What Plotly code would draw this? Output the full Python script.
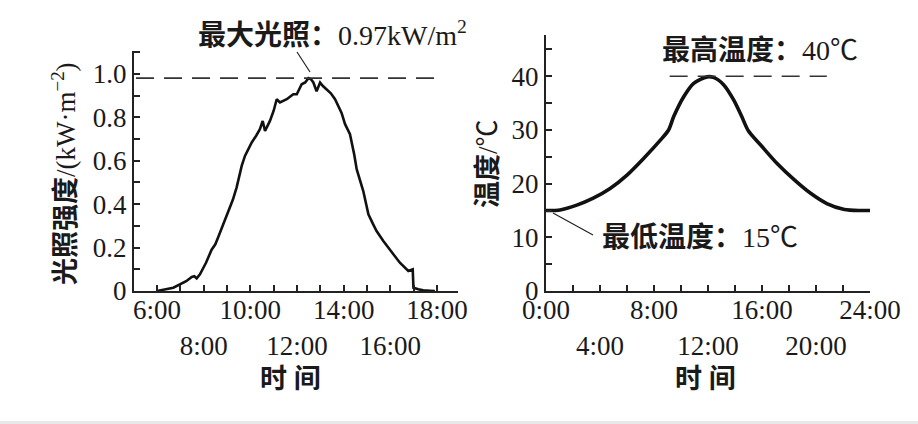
import plotly.graph_objects as go

# ---- data ----
light_hours = [6.0, 6.7, 7.25, 7.49, 7.6, 7.7, 7.84, 8.1, 8.34, 8.5, 8.63, 8.85, 9.06, 9.25, 9.41,
               9.63, 9.77, 9.9, 10.06, 10.25, 10.41, 10.53, 10.63, 10.84, 11.0, 11.13, 11.27,
               11.56, 11.84, 11.99, 12.2, 12.35, 12.49, 12.6, 12.7, 12.84, 12.99, 13.1, 13.27,
               13.45, 13.63, 13.91, 14.06, 14.27, 14.45, 14.56, 14.84, 15.06, 15.25, 15.41, 15.7,
               15.9, 16.13, 16.41, 16.6, 16.77, 16.96, 16.99, 17.2, 17.41, 17.7, 17.91]
light_vals = [0.0, 0.015, 0.045, 0.065, 0.068, 0.058, 0.077, 0.13, 0.19, 0.215, 0.25, 0.31, 0.376,
              0.42, 0.476, 0.576, 0.622, 0.65, 0.684, 0.715, 0.745, 0.783, 0.737, 0.783, 0.83,
              0.883, 0.868, 0.883, 0.906, 0.906, 0.952, 0.96, 0.98, 0.975, 0.96, 0.92, 0.96,
              0.945, 0.93, 0.91, 0.883, 0.82, 0.768, 0.722, 0.63, 0.56, 0.46, 0.353, 0.31, 0.276,
              0.23, 0.2, 0.169, 0.13, 0.11, 0.092, 0.1, 0.015, 0.008, 0.003, 0.001, 0.0]

temp_hours = [0.0, 1.04, 2.28, 3.5, 4.75, 6.0, 7.23, 8.47, 9.08, 9.46, 10.2, 10.94, 11.93, 12.4,
              13.17, 13.9, 14.5, 15.0, 15.9, 17.1, 18.4, 19.6, 20.8, 22.1, 23.3, 24.0]
temp_vals = [15.0, 15.1, 16.0, 17.3, 19.1, 21.6, 24.7, 28.1, 30.0, 32.5, 36.2, 38.7, 39.9, 39.8,
             38.4, 35.6, 32.5, 29.8, 27.2, 23.8, 20.7, 18.2, 16.3, 15.2, 15.0, 15.0]

light_ticks = [6, 8, 10, 12, 14, 16, 18]
light_ticktext = ["6:00", "<br>8:00", "10:00", "<br>12:00", "14:00", "<br>16:00", "18:00"]
light_yticks = [0, 0.2, 0.4, 0.6, 0.8, 1.0]
light_yticktext = ["0", "0.2", "0.4", "0.6", "0.8", "1.0"]

temp_ticks = [0, 4, 8, 12, 16, 20, 24]
temp_ticktext = ["0:00", "<br>4:00", "8:00", "<br>12:00", "16:00", "<br>20:00", "24:00"]
temp_yticks = [0, 10, 20, 30, 40]

max_light = 0.98
max_temp = 40

SERIF = "Liberation Serif, Noto Sans CJK SC"
TICKF = dict(family="Liberation Serif", size=27, color="#1a1a1a")

fig = go.Figure()
fig.add_trace(go.Scatter(x=light_hours, y=light_vals, mode="lines",
                         line=dict(color="#111", width=2.6), xaxis="x", yaxis="y",
                         showlegend=False))
fig.add_trace(go.Scatter(x=temp_hours, y=temp_vals, mode="lines",
                         line=dict(color="#111", width=3.6, shape="spline", smoothing=0.8),
                         xaxis="x2", yaxis="y2", showlegend=False))

axis_common = dict(showline=True, linecolor="#222", linewidth=2, ticks="inside", ticklen=6,
                   tickwidth=1.5, tickcolor="#222", showgrid=False, zeroline=False,
                   tickfont=TICKF, fixedrange=True, tickangle=0, automargin=False)

fig.update_layout(
    width=918, height=424, margin=dict(l=0, r=0, t=0, b=0, pad=0, autoexpand=False),
    paper_bgcolor="white", plot_bgcolor="white",
    xaxis=dict(domain=[134/918, 458/918], range=[5.014, 18.9], anchor="y",
               tickmode="array", tickvals=light_ticks, ticktext=light_ticktext,
               ticklabelstandoff=-6,
               minor=dict(dtick=1, tick0=0, ticks="inside", ticklen=6, tickwidth=1.5,
                          tickcolor="#222"),
               **axis_common),
    yaxis=dict(domain=[(424-291)/424, (424-51)/424], range=[0, 1.105], anchor="x",
               tickmode="array", tickvals=light_yticks, ticktext=light_yticktext,
               minor=dict(dtick=0.1, tick0=0, ticks="inside", ticklen=6, tickwidth=1.5,
                          tickcolor="#222"),
               **axis_common),
    xaxis2=dict(domain=[546/918, 870/918], range=[0, 24.0], anchor="y2",
                tickmode="array", tickvals=temp_ticks, ticktext=temp_ticktext,
                ticklabelstandoff=-6,
                minor=dict(dtick=2, tick0=0, ticks="inside", ticklen=6, tickwidth=1.5,
                           tickcolor="#222"),
                **axis_common),
    yaxis2=dict(domain=[(424-291)/424, (424-35)/424], range=[0, 47.7], anchor="x2",
                tickmode="array", tickvals=temp_yticks,
                minor=dict(dtick=5, tick0=0, ticks="inside", ticklen=6, tickwidth=1.5,
                           tickcolor="#222"),
                **axis_common),
)

# dashed reference lines
fig.add_shape(type="line", xref="x", yref="y", x0=5.1, x1=17.92, y0=max_light, y1=max_light,
              line=dict(color="#333", width=1.6, dash="18px,10px"))
fig.add_shape(type="line", xref="x2", yref="y2", x0=9.16, x1=20.8, y0=max_temp, y1=max_temp,
              line=dict(color="#333", width=1.6, dash="18px,10px"))

# leader lines
fig.add_shape(type="line", xref="paper", yref="paper",
              x0=297/918, y0=(424-52)/424, x1=310/918, y1=(424-72)/424,
              line=dict(color="#222", width=1.2))
fig.add_shape(type="line", xref="paper", yref="paper",
              x0=553/918, y0=(424-213)/424, x1=593/918, y1=(424-235)/424,
              line=dict(color="#222", width=1.2))

# bottom grey strip
fig.add_shape(type="rect", xref="paper", yref="paper", x0=0, x1=1, y0=0, y1=3/424,
              line=dict(width=0), fillcolor="#e8e8e8")

def ann(text, x, y, size=28, angle=0, color="#1a1a1a"):
    fig.add_annotation(text=text, xref="paper", yref="paper", x=x/918, y=(424-y)/424,
                       showarrow=False, textangle=angle, xanchor="center", yanchor="middle",
                       font=dict(family=SERIF, size=size, color=color))

ann("<b>最大光照：</b>0.97kW/m<sup>2</sup>", 332, 33)
ann("<b>最高温度：</b>40℃", 760, 50)
ann("<b>最低温度：</b>15℃", 700, 237)
ann("<b>光照强度</b>/(kW·m<sup>−2</sup>)", 64, 174, size=27, angle=-90)
ann("<b>温度</b>/℃", 488, 164, size=27, angle=-90)
ann("<b>时 间</b>", 290, 379, size=27)
ann("<b>时 间</b>", 705, 379, size=27)

fig.write_html("out.html")
